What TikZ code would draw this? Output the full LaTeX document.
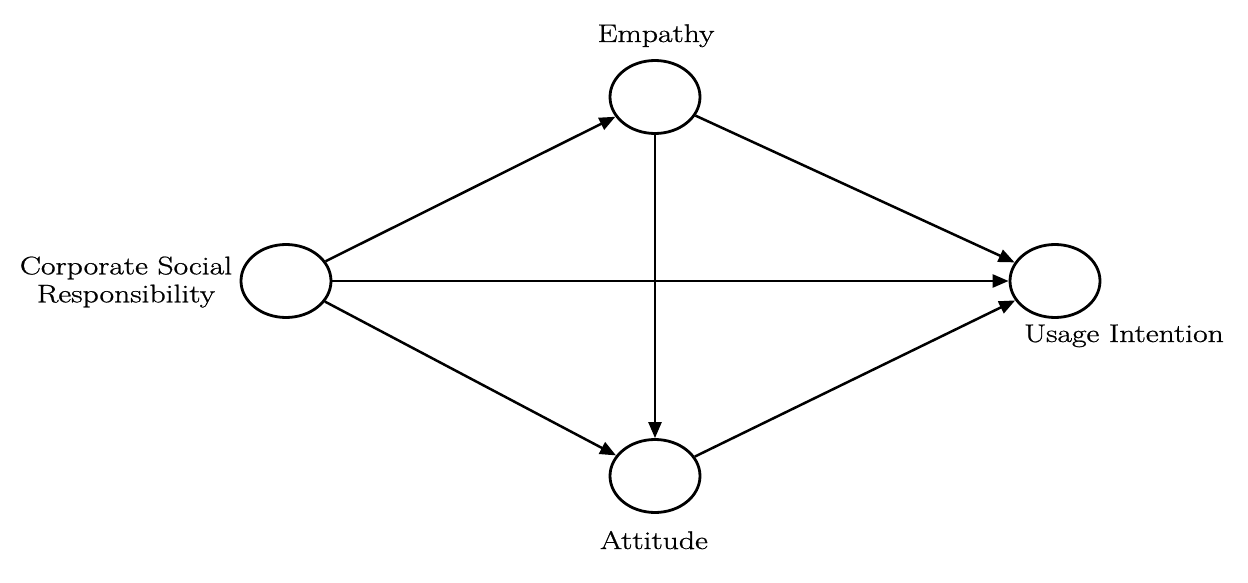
\documentclass[tikz,border=0pt]{standalone}
\usepackage{fontspec}
\setmainfont{Latin Modern Roman}[FakeBold=0.8]
\usetikzlibrary{shapes.geometric,arrows.meta}
\begin{document}
\begin{tikzpicture}[x=1pt,y=-1pt,
  latent/.style={draw,ellipse,minimum width=90pt,minimum height=73pt,inner sep=0pt,line width=2.8pt},
  lbl/.style={font=\fontsize{25.5}{28}\selectfont,xscale=1.24,transform shape,inner sep=0pt,align=center},
  path/.style={line width=2.5pt,-{Triangle[length=16pt,width=13pt]}}]
\useasboundingbox[fill=white] (0,0) rectangle (1248,583);
\node[latent] (csr) at (286,281) {};
\node[latent] (emp) at (655,97) {};
\node[latent] (att) at (655,476) {};
\node[latent] (use) at (1055,281) {};
\node[lbl,anchor=base] (tEmp) at (656,42) {Empathy};
\node[lbl,anchor=base] (tAtt) at (654,549) {Attitude};
\node[lbl,anchor=base] (tUse) at (1124,342) {Usage Intention};
\node[lbl] (tCsr) at (126,282) {Corporate Social\\Responsibility};
\draw[path] (csr) -- (emp);
\draw[path] (csr) -- (use);
\draw[path] (csr) -- (att);
\draw[path] (emp) -- (att);
\draw[path] (emp) -- (use);
\draw[path] (att) -- (use);
\end{tikzpicture}
\end{document}
